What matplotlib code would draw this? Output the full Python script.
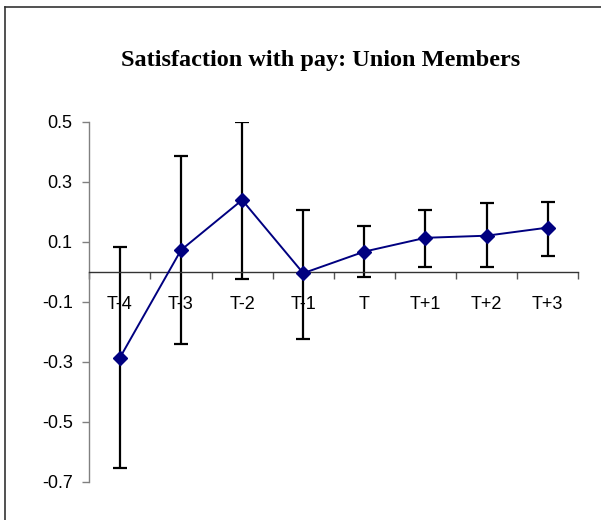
import numpy as np
import matplotlib.pyplot as plt
from matplotlib.lines import Line2D

# values
periods = ['T-4', 'T-3', 'T-2', 'T-1', 'T', 'T+1', 'T+2', 'T+3']
means = [-0.287, 0.072, 0.239, -0.005, 0.067, 0.113, 0.120, 0.147]
upper = [0.081, 0.387, 0.500, 0.206, 0.152, 0.206, 0.228, 0.233]
lower = [-0.653, -0.241, -0.025, -0.225, -0.019, 0.015, 0.015, 0.053]
y_ticks = [-0.7, -0.5, -0.3, -0.1, 0.1, 0.3, 0.5]

W, H = 601, 520
fig = plt.figure(figsize=(W / 100, H / 100), dpi=100)
ax = fig.add_axes([89.3 / W, 38.3 / H, 489 / W, 360 / H])

x = np.arange(len(periods))
m = np.array(means)
yerr = [m - np.array(lower), np.array(upper) - m]

ax.errorbar(x, m, yerr=yerr, fmt='none', ecolor='black', elinewidth=1.6,
            capsize=5.2, capthick=1.6, zorder=2)
ax.plot(x, m, color='#000080', lw=1.4, marker='D', ms=6.8, mew=1,
        mfc='#000080', mec='#000080', zorder=3)

ax.set_xlim(-0.5, len(periods) - 0.5)
ax.set_ylim(-0.7, 0.5)

for s in ['top', 'right']:
    ax.spines[s].set_visible(False)
ax.spines['bottom'].set_position(('data', 0))
ax.spines['bottom'].set_color('#333333')
ax.spines['left'].set_color('#808080')
ax.spines['bottom'].set_linewidth(1.0)
ax.spines['left'].set_linewidth(1.0)

ax.set_yticks(y_ticks)
ax.set_yticklabels([f'{v:.1f}' for v in y_ticks])
ax.tick_params(axis='y', direction='out', length=5, width=1, color='#808080',
               pad=7, labelsize=13)

ax.set_xticks(np.arange(len(periods) + 1) - 0.5)
ax.set_xticklabels([])
ax.set_xticks(x, minor=True)
ax.set_xticklabels(periods, minor=True)
ax.tick_params(axis='x', which='major', direction='out', length=5, width=1,
               color='#555555')
ax.tick_params(axis='x', which='minor', length=0, pad=17.5, labelsize=13)

for lab in ax.get_xticklabels(minor=True) + ax.get_yticklabels():
    lab.set_fontfamily('Liberation Sans')

fig.text(321 / W, 1 - 60.5 / H, 'Satisfaction with pay: Union Members',
         ha='center', va='center', fontsize=17.5, fontweight='bold',
         family='Liberation Serif')

# chart frame (only top and left edges fall inside the image)
fig.add_artist(Line2D([4.7 / W, 4.7 / W], [0, 1 - 7 / H], color='#333333',
                      lw=1.2, transform=fig.transFigure))
fig.add_artist(Line2D([4.7 / W, 1], [1 - 7 / H, 1 - 7 / H], color='#333333',
                      lw=1.2, transform=fig.transFigure))

fig.savefig('out.png', dpi=100)
